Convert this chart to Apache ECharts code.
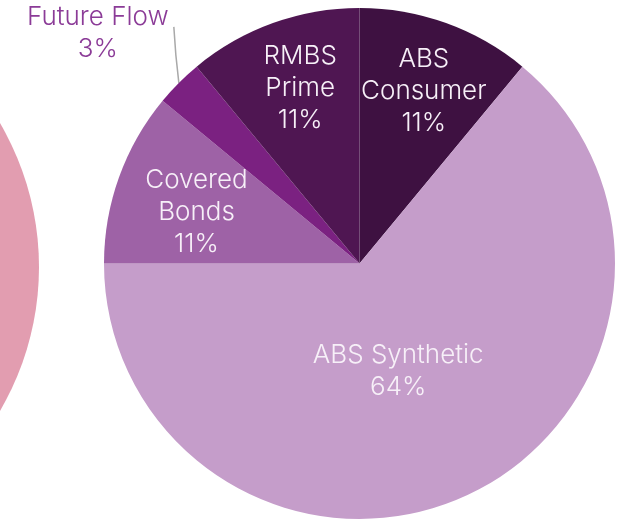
<!DOCTYPE html>
<html>
<head>
<meta charset="utf-8">
<script src="https://cdn.jsdelivr.net/npm/echarts@6/dist/echarts.min.js"></script>
<style>html,body{margin:0;padding:0;background:#fff}#c{width:624px;height:520px}</style>
</head>
<body>
<div id="c"></div>
<script>
const categories = ['ABS Consumer', 'ABS Synthetic', 'Covered Bonds', 'Future Flow', 'RMBS Prime'];
const displayNames = ['ABS\nConsumer', 'ABS Synthetic', 'Covered\nBonds', 'Future Flow', 'RMBS\nPrime'];
const shares = [11, 64, 11, 3, 11];
const colors = ['#3e1141', '#c59dca', '#9e62a6', '#7b2181', '#4f1652'];
const neighbourCategories = ['Other'];
const neighbourShares = [100];

const labelShift = [[20, -49], [-17, -11], [-40, -7], null, [-15, -52]];

const chart = echarts.init(document.getElementById('c'), null, {renderer: 'canvas'});
const font = 'Inter, "Noto Sans", sans-serif';

chart.setOption({
  animation: false,
  series: [
    {
      type: 'pie',
      silent: true,
      center: [-246, 267],
      radius: 285,
      label: {show: false},
      labelLine: {show: false},
      data: neighbourCategories.map((n, i) => ({name: n, value: neighbourShares[i], itemStyle: {color: '#e29db0'}}))
    },
    {
      type: 'pie',
      center: [359.5, 263.5],
      radius: 255.5,
      startAngle: 90,
      clockwise: true,
      itemStyle: {borderWidth: 0},
      label: {
        show: true,
        position: 'inside',
        color: '#f7f0f8',
        fontFamily: font,
        fontWeight: 300,
        fontSize: 26,
        lineHeight: 32,
        align: 'center',
        overflow: 'none',
        formatter: p => displayNames[p.dataIndex] + '\n' + p.percent.toFixed(0) + '%'
      },
      labelLine: {show: false},
      labelLayout: function (params) {
        const i = params.dataIndex;
        if (i === 3) {
          const p0 = params.labelLinePoints ? params.labelLinePoints[0] : [179, 83];
          return {
            x: p0[0] - 81,
            y: p0[1] - 50,
            align: 'center',
            verticalAlign: 'middle',
            labelLinePoints: [p0, [p0[0] - 3, p0[1] - 28], [p0[0] - 5, p0[1] - 56]]
          };
        }
        const s = labelShift[i];
        return {dx: s[0], dy: s[1]};
      },
      data: categories.map((c, i) => {
        const d = {name: c, value: shares[i], itemStyle: {color: colors[i]}};
        if (i === 3) {
          d.label = {position: 'outside', color: '#8b3b97', align: 'center', overflow: 'none', width: 200, edgeDistance: 0, bleedMargin: 0};
          d.labelLine = {show: true, length: 20, length2: 20, lineStyle: {color: '#a9a9a9', width: 1.5}};
        }
        return d;
      })
    }
  ]
});
</script>
</body>
</html>
